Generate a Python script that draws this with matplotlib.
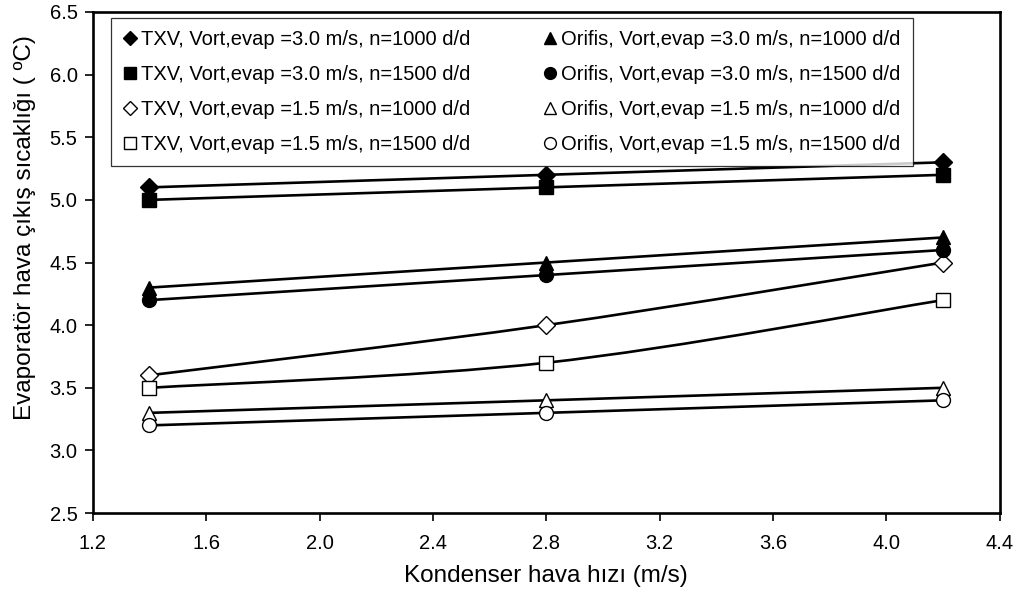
"""Evaporator air outlet temperature vs condenser air speed (TXV vs orifice)."""

import matplotlib

matplotlib.use("Agg")
import matplotlib.pyplot as plt
from matplotlib.lines import Line2D
from matplotlib.patches import PathPatch
from matplotlib.path import Path

plt.rcParams["font.family"] = ["Liberation Sans", "DejaVu Sans"]

# condenser air speed (m/s)
x_speed = [1.4, 2.8, 4.2]

txv_30_1000 = [5.1, 5.2, 5.3]
txv_30_1500 = [5.0, 5.1, 5.2]
txv_15_1000 = [3.6, 4.0, 4.5]
txv_15_1500 = [3.5, 3.7, 4.2]
orf_30_1000 = [4.3, 4.5, 4.7]
orf_30_1500 = [4.2, 4.4, 4.6]
orf_15_1000 = [3.3, 3.4, 3.5]
orf_15_1500 = [3.2, 3.3, 3.4]

labels = [
    "TXV, Vort,evap =3.0 m/s, n=1000 d/d",
    "TXV, Vort,evap =3.0 m/s, n=1500 d/d",
    "TXV, Vort,evap =1.5 m/s, n=1000 d/d",
    "TXV, Vort,evap =1.5 m/s, n=1500 d/d",
    "Orifis, Vort,evap =3.0 m/s, n=1000 d/d",
    "Orifis, Vort,evap =3.0 m/s, n=1500 d/d",
    "Orifis, Vort,evap =1.5 m/s, n=1000 d/d",
    "Orifis, Vort,evap =1.5 m/s, n=1500 d/d",
]
series = [txv_30_1000, txv_30_1500, txv_15_1000, txv_15_1500,
          orf_30_1000, orf_30_1500, orf_15_1000, orf_15_1500]
# marker, face colour, size on the plot, size in the legend
styles = [("D", "black", 9, 7.5), ("s", "black", 10, 8.5),
          ("D", "white", 9, 7.5), ("s", "white", 10, 8.5),
          ("^", "black", 10, 8.5), ("o", "black", 10, 8.5),
          ("^", "white", 10, 8.5), ("o", "white", 10, 8.5)]


def smooth_path(xs, ys):
    # Excel-style smoothed line: Catmull-Rom segments as cubic Beziers
    pts = list(zip(xs, ys))
    verts = [pts[0]]
    codes = [Path.MOVETO]
    for i in range(len(pts) - 1):
        p0 = pts[i - 1] if i > 0 else pts[i]
        p1, p2 = pts[i], pts[i + 1]
        p3 = pts[i + 2] if i + 2 < len(pts) else pts[i + 1]
        c1 = (p1[0] + (p2[0] - p0[0]) / 6, p1[1] + (p2[1] - p0[1]) / 6)
        c2 = (p2[0] - (p3[0] - p1[0]) / 6, p2[1] - (p3[1] - p1[1]) / 6)
        verts += [c1, c2, p2]
        codes += [Path.CURVE4] * 3
    return Path(verts, codes)


fig, ax = plt.subplots(figsize=(10.2, 5.98), dpi=100)
fig.subplots_adjust(left=0.091, right=0.980, top=0.980, bottom=0.142)

handles = []
for ys, (marker, face, ms, lms), label in zip(series, styles, labels):
    ax.add_patch(PathPatch(smooth_path(x_speed, ys), facecolor="none",
                           edgecolor="black", linewidth=1.9, zorder=2))
    ax.plot(x_speed, ys, linestyle="none", marker=marker, markersize=ms,
            markerfacecolor=face, markeredgecolor="black", markeredgewidth=1.0,
            zorder=3)
    handles.append(Line2D([], [], linestyle="none", marker=marker, markersize=lms,
                          markerfacecolor=face, markeredgecolor="black",
                          markeredgewidth=1.0, label=label))

ax.set_xlim(1.2, 4.4)
ax.set_ylim(2.5, 6.5)
ax.set_xticks([1.2, 1.6, 2.0, 2.4, 2.8, 3.2, 3.6, 4.0, 4.4])
ax.set_yticks([2.5, 3.0, 3.5, 4.0, 4.5, 5.0, 5.5, 6.0, 6.5])
ax.xaxis.set_major_formatter(plt.FormatStrFormatter("%.1f"))
ax.yaxis.set_major_formatter(plt.FormatStrFormatter("%.1f"))
ax.tick_params(direction="out", length=6, width=1.2, labelsize=14.5, pad=5)
ax.tick_params(axis="x", pad=9)
for spine in ax.spines.values():
    spine.set_linewidth(1.9)

ax.set_xlabel("Kondenser hava hızı (m/s)", fontsize=17.5, labelpad=9)
ax.set_ylabel("Evaporatör hava çıkış sıcaklığı ( ºC)", fontsize=17.5)
ax.yaxis.set_label_coords(-0.063, 0.57)

leg = ax.legend(handles=handles, ncol=2, loc="upper left",
                bbox_to_anchor=(0.020, 0.988), fontsize=14.5, frameon=True,
                fancybox=False, edgecolor="black", handlelength=0.7,
                handletextpad=0.2, columnspacing=3.6, labelspacing=0.8,
                borderpad=0.6, borderaxespad=0)
leg.get_frame().set_linewidth(0.9)

fig.savefig("out.png", dpi=100)
